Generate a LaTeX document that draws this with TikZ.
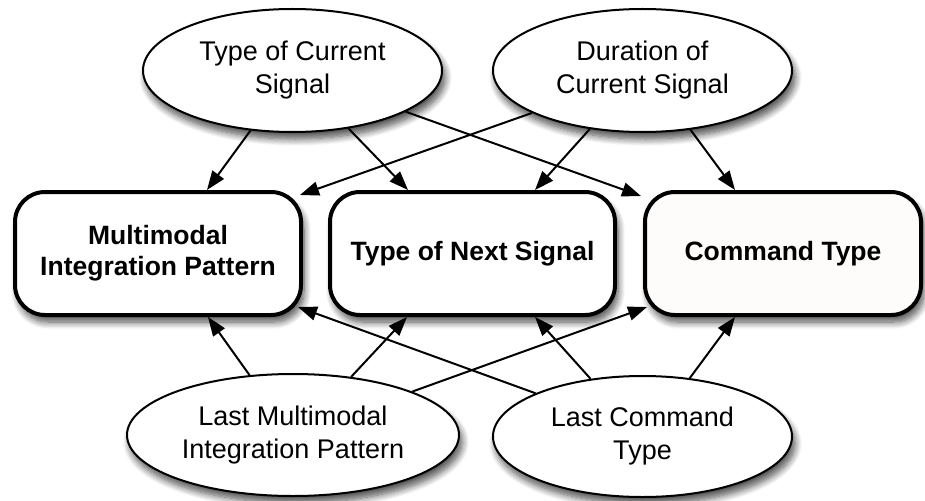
\documentclass[tikz,border=0pt]{standalone}
\usepackage{fontspec}
\setmainfont{Liberation Sans}
\usetikzlibrary{shapes.geometric,arrows.meta,shadows.blur,calc}
\definecolor{warmwhite}{HTML}{FDFCFA}
\begin{document}
\begin{tikzpicture}[x=1pt,y=-1pt,
  softshadow/.style={blur shadow={shadow xshift=3pt,shadow yshift=-7pt,
      shadow blur radius=7pt,shadow blur steps=10,shadow opacity=70}},
  factor/.style={ellipse,draw,line width=2pt,fill=white,inner sep=0pt,
      align=center,font=\fontsize{27}{33}\selectfont,softshadow},
  target/.style={rectangle,rounded corners=30pt,draw,line width=4pt,
      fill=white,inner sep=0pt,minimum height=123pt,align=center,
      font=\fontsize{26.5}{31}\selectfont\bfseries,softshadow},
  arr/.style={line width=2pt,-{Triangle[length=19pt,width=14pt]}}]
\useasboundingbox (0,0) rectangle (925,500);

% input variables (top)
\node[factor,minimum width=299pt,minimum height=123pt] (tl) at (292.5,70.5)
  {Type of Current\\Signal};
\node[factor,minimum width=299pt,minimum height=123pt] (tr) at (642.5,70.5)
  {Duration of\\Current Signal};

% predicted variables
\node[target,minimum width=286pt] (b1) at (158,253.5)
  {Multimodal\\Integration Pattern};
\node[target,minimum width=285pt] (b2) at (472.5,253.5)
  {Type of Next Signal};
\node[target,minimum width=276pt,fill=warmwhite] (b3) at (783,253.5)
  {Command Type};

% input variables (bottom)
\node[factor,minimum width=332pt,minimum height=122pt] (bl) at (293,435)
  {Last Multimodal\\Integration Pattern};
\node[factor,minimum width=299pt,minimum height=121pt] (br) at (642.5,436.5)
  {Last Command\\Type};

% influences from the top
\draw[arr] (tl.-125.5) -- ($(b1.north)+(49,0)$);
\draw[arr] (tl.-46) -- ($(b2.north)+(-64.5,0)$);
\draw[arr] (tl.-20.7) -- ($(b3.north west)+(-2,6)$);
\draw[arr] (tr.-159.3) -- ($(b1.north east)+(-3,5)$);
\draw[arr] (tr.-132) -- ($(b2.north)+(62.5,0)$);
\draw[arr] (tr.-51.2) -- ($(b3.north)+(-48,0)$);

% influences from the bottom
\draw[arr] (bl.126.6) -- ($(b1.south)+(50,0)$);
\draw[arr] (bl.45.5) -- ($(b2.south)+(-65.5,0)$);
\draw[arr] (bl.20.6) -- ($(b3.south west)+(4,-10)$);
\draw[arr] (br.158.9) -- ($(b1.south east)+(-5,-10)$);
\draw[arr] (br.132.5) -- ($(b2.south)+(62.5,0)$);
\draw[arr] (br.51.4) -- ($(b3.south)+(-48,0)$);
\end{tikzpicture}
\end{document}
